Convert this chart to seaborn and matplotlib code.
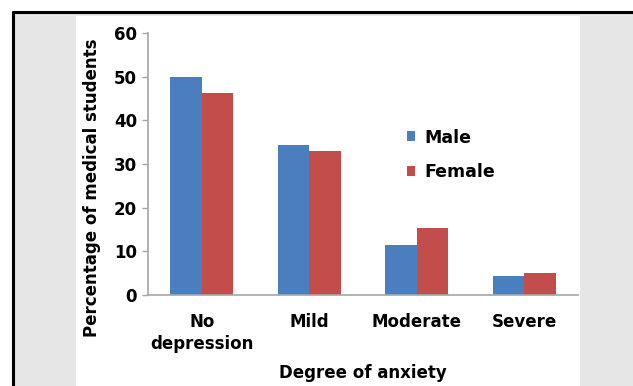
import matplotlib
matplotlib.use("Agg")
import matplotlib.pyplot as plt
import seaborn as sns
import pandas as pd
from matplotlib.patches import Rectangle
from matplotlib.lines import Line2D

# Data
categories = ["No\ndepression", "Mild", "Moderate", "Severe"]
male = [50.0, 34.3, 11.4, 4.3]
female = [46.2, 33.0, 15.3, 5.1]
groups = ["Male", "Female"]
y_ticks = [0, 10, 20, 30, 40, 50, 60]

df = pd.DataFrame({
    "category": categories * 2,
    "value": male + female,
    "sex": ["Male"] * len(categories) + ["Female"] * len(categories),
})

sns.set_theme(style="white")
plt.rcParams["font.family"] = ["DejaVu Sans"]
plt.rcParams["text.color"] = "black"
plt.rcParams["axes.labelcolor"] = "black"
plt.rcParams["xtick.color"] = "black"
plt.rcParams["ytick.color"] = "black"

W, H = 633, 386
fig = plt.figure(figsize=(W / 100, H / 100), dpi=100)
fig.patch.set_facecolor("white")

# Framed background: grey panel with a white chart area (drawn beneath the axes)
fig.patches.append(Rectangle((14 / W, 0), 1, 1 - 13 / H, transform=fig.transFigure,
                             facecolor="#e6e6e6", edgecolor="none", zorder=-3))
fig.patches.append(Rectangle((76 / W, 0), (580 - 76) / W, 1 - 16 / H, transform=fig.transFigure,
                             facecolor="white", edgecolor="none", zorder=-2))
fig.lines.append(Line2D([13 / W, 1], [1 - 12 / H, 1 - 12 / H], transform=fig.transFigure,
                        color="black", linewidth=2.2, zorder=-1))
fig.lines.append(Line2D([13 / W, 13 / W], [0, 1 - 12 / H], transform=fig.transFigure,
                        color="black", linewidth=2.2, zorder=-1))

ax = fig.add_axes([148 / W, 1 - 295 / H, (578 - 148) / W, (295 - 33) / H])
ax.set_facecolor("none")

palette = {"Male": "#4a7ebf", "Female": "#c24d4a"}
sns.barplot(data=df, x="category", y="value", hue="sex", hue_order=groups,
            palette=palette, width=0.59, gap=0, saturation=1,
            linewidth=0, edgecolor="none", ax=ax)

ax.set_ylim(0, 60)
ax.set_yticks(y_ticks)
ax.set_xlim(-0.5, 3.5)

for s in ["top", "right"]:
    ax.spines[s].set_visible(False)
for s in ["left", "bottom"]:
    ax.spines[s].set_color("#a6a6a6")
    ax.spines[s].set_linewidth(1.2)

ax.tick_params(axis="y", which="major", left=True, length=4, width=1,
               color="#a6a6a6", labelcolor="black", pad=4, labelsize=12)
ax.tick_params(axis="x", length=0, pad=13, labelsize=12, labelcolor="black")
for lbl in ax.get_xticklabels() + ax.get_yticklabels():
    lbl.set_fontweight("bold")
for lbl in ax.get_xticklabels():
    lbl.set_linespacing(1.25)

ax.set_xlabel("Degree of anxiety", fontsize=12, fontweight="bold", labelpad=8)
ax.set_ylabel("Percentage of medical students", fontsize=12, fontweight="bold")
ax.yaxis.set_label_coords(-0.11, 0.41)

handles, labels = ax.get_legend_handles_labels()
ax.legend(handles, labels, loc="center left", bbox_to_anchor=(0.565, 0.535),
          frameon=False, handlelength=0.5, handleheight=0.5, handletextpad=0.55,
          labelspacing=0.95, prop={"size": 12.5, "weight": "bold"})

fig.savefig("out.png", dpi=100)
